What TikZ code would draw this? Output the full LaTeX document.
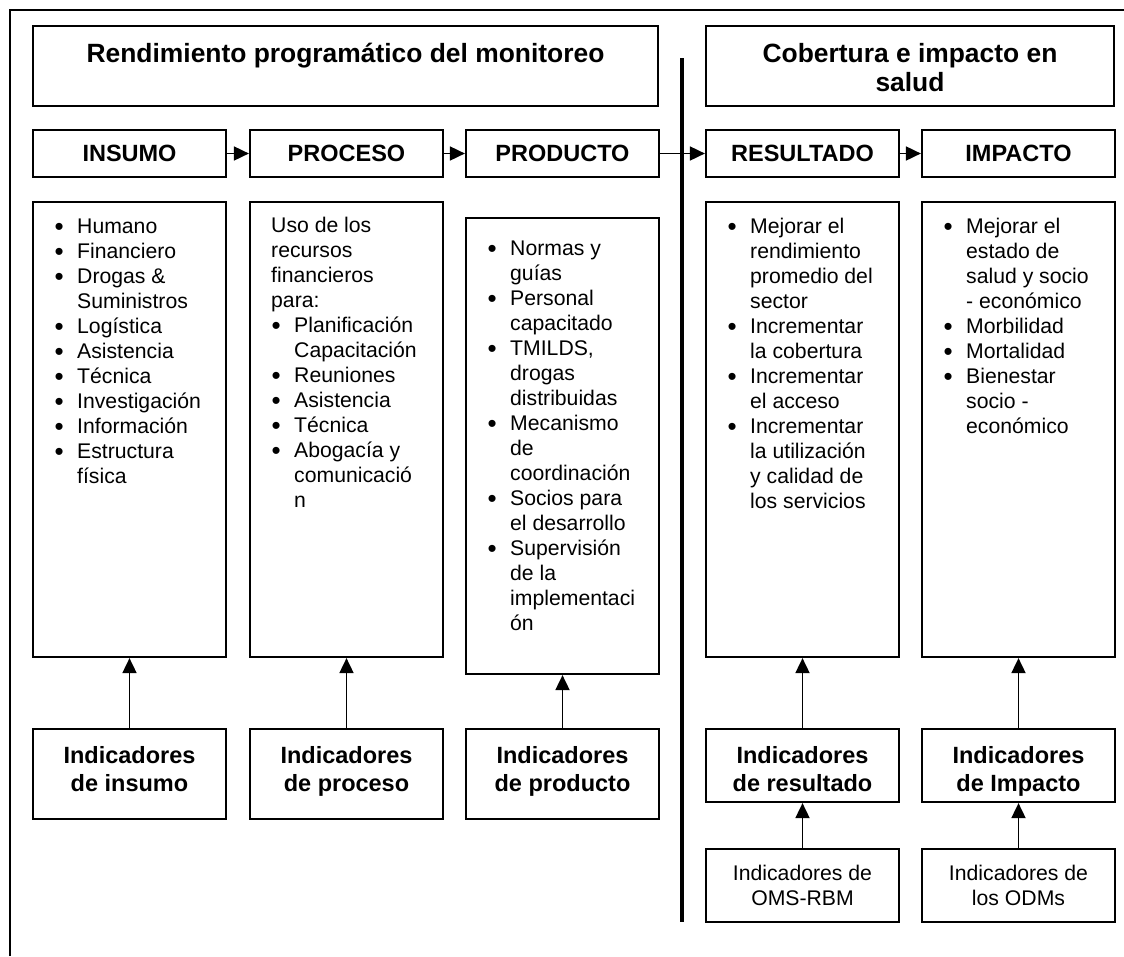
\documentclass[tikz,border=0pt]{standalone}
\usepackage{fontspec}
\setmainfont{Liberation Sans}
\usetikzlibrary{arrows.meta}
\newcommand\bl{\makebox[23pt][l]{\hspace{0.5pt}\raisebox{-2.3pt}{\fontsize{26pt}{25pt}\selectfont •}}}
\newcommand\ind{\makebox[23pt]{}}
\newcommand\mystrut{\rule{0pt}{24pt}}
\newcommand\tstrut{\rule{0pt}{26pt}}
\begin{document}
\begin{tikzpicture}[x=1pt,y=-1pt,
  box/.style={draw, line width=2.2pt, inner sep=0pt, minimum width=193pt},
  hdr/.style={font=\fontsize{23.5pt}{28pt}\selectfont\bfseries},
  ttl/.style={inner sep=0pt, align=center, font=\fontsize{26.4pt}{29pt}\selectfont\bfseries},
  body/.style={inner sep=0pt, align=left, anchor=north west, font=\fontsize{21.2pt}{25pt}\selectfont},
  ind/.style={inner sep=0pt, align=center, anchor=north, font=\fontsize{23.5pt}{28pt}\selectfont\bfseries},
  src/.style={inner sep=0pt, align=center, anchor=north, font=\fontsize{21.2pt}{25pt}\selectfont},
  arr/.style={-{Triangle[length=15pt,width=14pt]}, line width=1.8pt},
  frame/.style={line width=2.2pt},
  divider/.style={line width=4.5pt}]
\useasboundingbox[fill=white] (0,0) rectangle (1124,956);
% outer frame
\draw[frame] (10,956) -- (10,10) -- (1124,10);
% divider
\coordinate (dtop) at (682,58);
\coordinate (dbot) at (682,922);
\draw[divider] (dtop) -- (dbot);
% title boxes
\node[box, minimum width=625pt, minimum height=80pt] (T1) at (345.5,66) {};
\node[box, minimum width=408pt, minimum height=80pt] (T2) at (910,66) {};
\node[ttl, anchor=north] (T1t) at (345.5,36) {\tstrut Rendimiento programático del monitoreo};
\node[ttl, anchor=north] (T2t) at (910,36) {\tstrut Cobertura e impacto en\\salud};
% header boxes
\node[box, hdr, minimum height=47pt] (H1) at (129.5,153.5) {INSUMO};
\node[box, hdr, minimum height=47pt] (H2) at (346.5,153.5) {PROCESO};
\node[box, hdr, minimum height=47pt] (H3) at (562.5,153.5) {PRODUCTO};
\node[box, hdr, minimum height=47pt] (H4) at (802.5,153.5) {RESULTADO};
\node[box, hdr, minimum height=47pt] (H5) at (1018.5,153.5) {IMPACTO};
\draw[arr] (H1.east) -- (H2.west);
\draw[arr] (H2.east) -- (H3.west);
\draw[arr] (H3.east) -- (H4.west);
\draw[arr] (H4.east) -- (H5.west);
% content boxes
\node[box, minimum height=455pt] (C1) at (129.5,429.5) {};
\node[box, minimum height=455pt] (C2) at (346.5,429.5) {};
\node[box, minimum height=456pt] (C3) at (562.5,446) {};
\node[box, minimum height=455pt] (C4) at (802.5,429.5) {};
\node[box, minimum height=455pt] (C5) at (1018.5,429.5) {};
\node[body] (C1t) at (54,209) {\mystrut\bl Humano\\ \bl Financiero\\ \bl Drogas \&\\ \ind Suministros\\ \bl Logística\\ \bl Asistencia\\ \bl Técnica\\ \bl Investigación\\ \bl Información\\ \bl Estructura\\ \ind física};
\node[body] (C2t) at (271,208) {\mystrut Uso de los\\ recursos\\ financieros\\ para:\\ \bl Planificación\\ \ind Capacitación\\ \bl Reuniones\\ \bl Asistencia\\ \bl Técnica\\ \bl Abogacía y\\ \ind comunicació\\ \ind n};
\node[body] (C3t) at (487,231) {\mystrut\bl Normas y\\ \ind guías\\ \bl Personal\\ \ind capacitado\\ \bl TMILDS,\\ \ind drogas\\ \ind distribuidas\\ \bl Mecanismo\\ \ind de\\ \ind coordinación\\ \bl Socios para\\ \ind el desarrollo\\ \bl Supervisión\\ \ind de la\\ \ind implementaci\\ \ind ón};
\node[body] (C4t) at (727,209) {\mystrut\bl Mejorar el\\ \ind rendimiento\\ \ind promedio del\\ \ind sector\\ \bl Incrementar\\ \ind la cobertura\\ \bl Incrementar\\ \ind el acceso\\ \bl Incrementar\\ \ind la utilización\\ \ind y calidad de\\ \ind los servicios};
\node[body] (C5t) at (943,209) {\mystrut\bl Mejorar el\\ \ind estado de\\ \ind salud y socio\\ \ind - económico\\ \bl Morbilidad\\ \bl Mortalidad\\ \bl Bienestar\\ \ind socio -\\ \ind económico};
% indicator boxes
\node[box, minimum height=90pt] (B1) at (129.5,774) {};
\node[box, minimum height=90pt] (B2) at (346.5,774) {};
\node[box, minimum height=90pt] (B3) at (562.5,774) {};
\node[box, minimum height=73pt] (B4) at (802.5,765.5) {};
\node[box, minimum height=73pt] (B5) at (1018.5,765.5) {};
\node[ind] (B1t) at (129.5,739) {\mystrut Indicadores\\de insumo};
\node[ind] (B2t) at (346.5,739) {\mystrut Indicadores\\de proceso};
\node[ind] (B3t) at (562.5,739) {\mystrut Indicadores\\de producto};
\node[ind] (B4t) at (802.5,739) {\mystrut Indicadores\\de resultado};
\node[ind] (B5t) at (1018.5,739) {\mystrut Indicadores\\de Impacto};
% source boxes
\node[box, minimum height=73pt] (O4) at (802.5,885.5) {};
\node[box, minimum height=73pt] (O5) at (1018.5,885.5) {};
\node[src] (O4t) at (802.5,856) {\mystrut Indicadores de\\OMS-RBM};
\node[src] (O5t) at (1018.5,856) {\mystrut Indicadores de\\los ODMs};
% upward arrows
\draw[arr] (B1.north) -- (C1.south);
\draw[arr] (B2.north) -- (C2.south);
\draw[arr] (B3.north) -- (C3.south);
\draw[arr] (B4.north) -- (C4.south);
\draw[arr] (B5.north) -- (C5.south);
\draw[arr] (O4.north) -- (B4.south);
\draw[arr] (O5.north) -- (B5.south);
\end{tikzpicture}
\end{document}
